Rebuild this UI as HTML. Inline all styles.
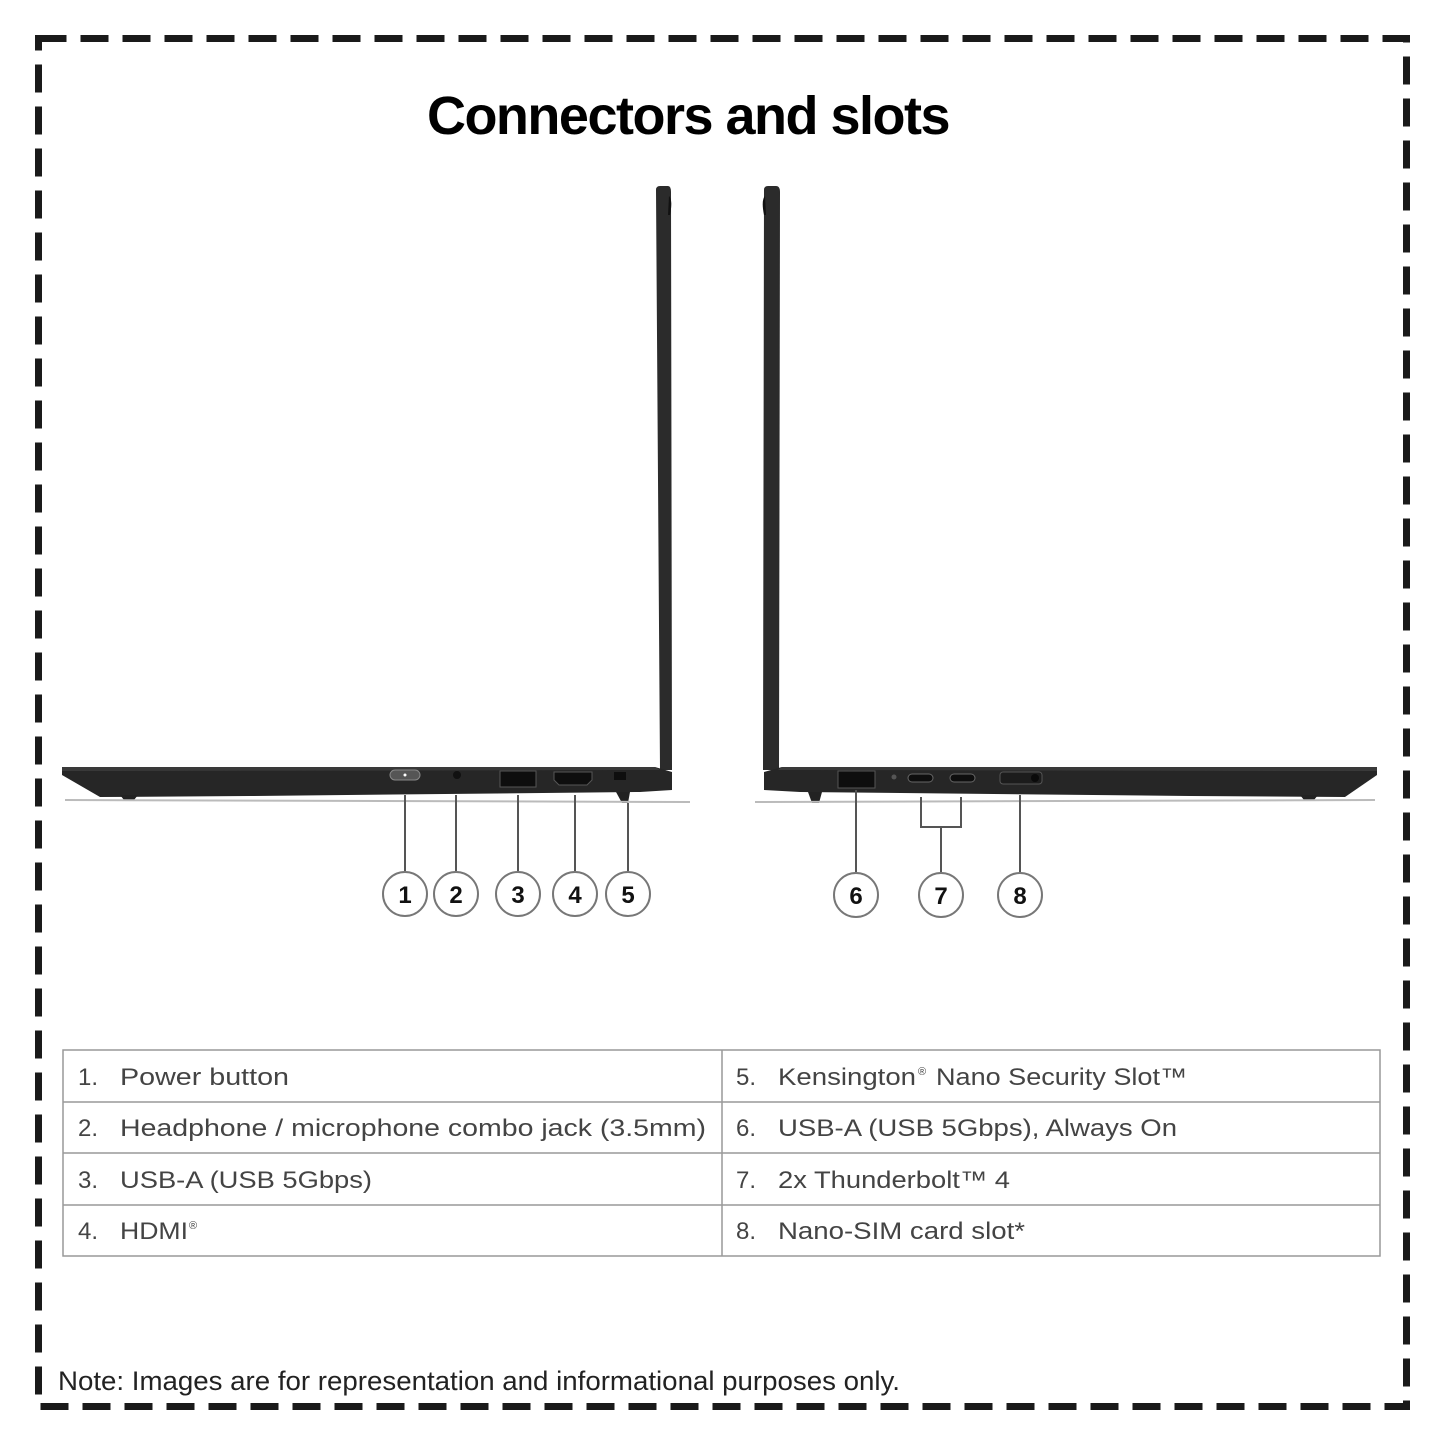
<!DOCTYPE html>
<html><head><meta charset="utf-8"><style>
body{margin:0;background:#fff;}
svg{display:block}
</style></head><body>
<svg width="1445" height="1445" viewBox="0 0 1445 1445" xmlns="http://www.w3.org/2000/svg">
<rect x="38.5" y="38.5" width="1368" height="1368" fill="none" stroke="#1a1a1a" stroke-width="7" stroke-dasharray="28 14"/>
<text x="688" y="134" text-anchor="middle" font-family="Liberation Sans, sans-serif" font-weight="bold" font-size="54" letter-spacing="-1.5" fill="#000">Connectors and slots</text>

<!-- left laptop -->
<path d="M656 190 Q656 186 660 186 L668 186 Q671 186 671 192 L672 770 L660 770 Z" fill="#2b2b2b"/>
<path d="M669 196 Q673 200 670 215 L668 215 Z" fill="#111"/>
<path d="M62 767 L655 767 L672 772 L672 790 L640 792 L250 796 L100 797 L62 775 Z" fill="#262626"/>
<path d="M62 767 L655 767 L660 770 L62 771 Z" fill="#3a3a3a"/>
<path d="M120 795 L138 795 L134 800 L124 800 Z" fill="#222"/>
<path d="M616 792 L630 792 L628 803 L622 803 Z" fill="#222"/>
<line x1="65" y1="800" x2="690" y2="802" stroke="#bbb" stroke-width="2"/>
<rect x="390" y="770" width="30" height="10" rx="5" fill="#555" stroke="#888"/>
<circle cx="405" cy="775" r="1.5" fill="#fff"/>
<circle cx="457" cy="775" r="4" fill="#111"/>
<rect x="500" y="771" width="36" height="16" fill="#0e0e0e" stroke="#555"/>
<path d="M554 772 L592 772 L592 780 L587 785 L559 785 L554 780 Z" fill="#0e0e0e" stroke="#555"/>
<rect x="614" y="772" width="12" height="8" fill="#0e0e0e"/>
<g stroke="#555" stroke-width="2" fill="none">
<line x1="405" y1="795" x2="405" y2="871"/>
<line x1="456" y1="795" x2="456" y2="871"/>
<line x1="518" y1="795" x2="518" y2="871"/>
<line x1="575" y1="795" x2="575" y2="871"/>
<line x1="628" y1="803" x2="628" y2="871"/>
</g>

<!-- right laptop -->
<path d="M764 190 Q764 186 768 186 L776 186 Q780 186 780 192 L779 770 L763 770 Z" fill="#2b2b2b"/>
<path d="M765 196 Q761 200 764 215 L766 215 Z" fill="#111"/>
<path d="M1377 767 L782 767 L764 772 L764 790 L800 792 L1190 796 L1345 797 L1377 775 Z" fill="#262626"/>
<path d="M1377 767 L782 767 L778 770 L1377 771 Z" fill="#3a3a3a"/>
<path d="M808 792 L822 792 L819 803 L812 803 Z" fill="#222"/>
<path d="M1300 795 L1318 795 L1314 800 L1304 800 Z" fill="#222"/>
<line x1="755" y1="802" x2="1375" y2="800" stroke="#bbb" stroke-width="2"/>
<rect x="838" y="771" width="37" height="17" fill="#0e0e0e" stroke="#555"/>
<circle cx="894" cy="777" r="2.5" fill="#555"/>
<rect x="908" y="774" width="25" height="8" rx="4" fill="#0e0e0e" stroke="#666"/>
<rect x="950" y="774" width="25" height="8" rx="4" fill="#0e0e0e" stroke="#666"/>
<rect x="1000" y="772" width="42" height="12" rx="3" fill="#1c1c1c" stroke="#555"/>
<circle cx="1035" cy="778" r="4" fill="#0a0a0a"/>
<g stroke="#555" stroke-width="2" fill="none">
<line x1="856" y1="790" x2="856" y2="872"/>
<polyline points="921,797 921,827 961,827 961,797"/>
<line x1="941" y1="827" x2="941" y2="872"/>
<line x1="1020" y1="795" x2="1020" y2="872"/>
</g>

<!-- circles -->
<g stroke="#777" stroke-width="2" fill="#fff">
<circle cx="405" cy="894" r="22"/><circle cx="456" cy="894" r="22"/><circle cx="518" cy="894" r="22"/><circle cx="575" cy="894" r="22"/><circle cx="628" cy="894" r="22"/>
<circle cx="856" cy="895" r="22"/><circle cx="941" cy="895" r="22"/><circle cx="1020" cy="895" r="22"/>
</g>
<g font-family="Liberation Sans, sans-serif" font-weight="bold" font-size="24" text-anchor="middle" fill="#111">
<text x="405" y="903">1</text><text x="456" y="903">2</text><text x="518" y="903">3</text><text x="575" y="903">4</text><text x="628" y="903">5</text>
<text x="856" y="904">6</text><text x="941" y="904">7</text><text x="1020" y="904">8</text>
</g>

<!-- table -->
<g stroke="#999" stroke-width="1.5" fill="none">
<rect x="63" y="1050" width="1317" height="206"/>
<line x1="63" y1="1102" x2="1380" y2="1102"/>
<line x1="63" y1="1153" x2="1380" y2="1153"/>
<line x1="63" y1="1205" x2="1380" y2="1205"/>
<line x1="722" y1="1050" x2="722" y2="1256"/>
</g>
<g font-family="Liberation Sans, sans-serif" font-size="24" fill="#444" lengthAdjust="spacingAndGlyphs">
<text x="78" y="1085">1.</text><text x="120" y="1085" textLength="169" lengthAdjust="spacingAndGlyphs">Power button</text>
<text x="78" y="1136">2.</text><text x="120" y="1136" textLength="586" lengthAdjust="spacingAndGlyphs">Headphone / microphone combo jack (3.5mm)</text>
<text x="78" y="1188">3.</text><text x="120" y="1188" textLength="252" lengthAdjust="spacingAndGlyphs">USB-A (USB 5Gbps)</text>
<text x="78" y="1239">4.</text><text x="120" y="1239" textLength="68" lengthAdjust="spacingAndGlyphs">HDMI</text><text x="189" y="1229" font-size="11">®</text>
<text x="736" y="1085">5.</text><text x="778" y="1085" textLength="138" lengthAdjust="spacingAndGlyphs">Kensington</text><text x="918" y="1075" font-size="11">®</text><text x="936" y="1085" textLength="251" lengthAdjust="spacingAndGlyphs">Nano Security Slot™</text>
<text x="736" y="1136">6.</text><text x="778" y="1136" textLength="399" lengthAdjust="spacingAndGlyphs">USB-A (USB 5Gbps), Always On</text>
<text x="736" y="1188">7.</text><text x="778" y="1188" textLength="232" lengthAdjust="spacingAndGlyphs">2x Thunderbolt™ 4</text>
<text x="736" y="1239">8.</text><text x="778" y="1239" textLength="247" lengthAdjust="spacingAndGlyphs">Nano-SIM card slot*</text>
</g>
<text x="58" y="1390" font-family="Liberation Sans Narrow, Liberation Sans, sans-serif" font-size="27" fill="#222" textLength="842" lengthAdjust="spacingAndGlyphs">Note: Images are for representation and informational purposes only.</text>
</svg>
</body></html>
